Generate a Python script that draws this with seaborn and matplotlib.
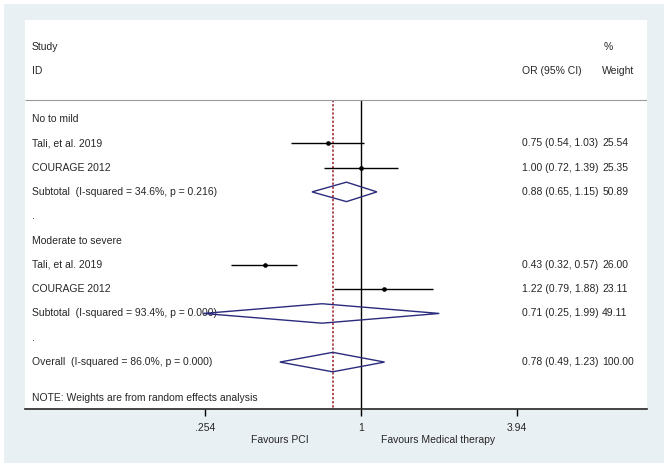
import matplotlib
matplotlib.use("Agg")
import matplotlib.pyplot as plt
import matplotlib.transforms as mtransforms
from matplotlib.patches import Polygon, Rectangle
import numpy as np
import pandas as pd
import seaborn as sns

# rows of the forest plot (top to bottom)
row_labels = ["No to mild", "Tali, et al. 2019", "COURAGE 2012",
              "Subtotal  (I-squared = 34.6%, p = 0.216)", ".",
              "Moderate to severe", "Tali, et al. 2019", "COURAGE 2012",
              "Subtotal  (I-squared = 93.4%, p = 0.000)", ".",
              "Overall  (I-squared = 86.0%, p = 0.000)"]

# single studies
study_rows = [1, 2, 6, 7]
study_or = [0.75, 1.00, 0.43, 1.22]
study_lo = [0.54, 0.72, 0.32, 0.79]
study_hi = [1.03, 1.39, 0.57, 1.88]
study_wt = [25.54, 25.35, 26.00, 23.11]

# pooled estimates
pool_rows = [3, 8, 10]
pool_or = [0.88, 0.71, 0.78]
pool_lo = [0.65, 0.25, 0.49]
pool_hi = [1.15, 1.99, 1.23]
pool_wt = [50.89, 49.11, 100.00]

xticks = [0.254, 1, 3.94]
xtick_labels = [".254", "1", "3.94"]

sns.set_style("white")
plt.rcParams['font.family'] = ['Liberation Sans', 'DejaVu Sans']
fs = 7.5

fig = plt.figure(figsize=(6.68, 4.69), dpi=100)
fig.patch.set_facecolor("white")
fig.patches.append(Rectangle((4 / 668, 6 / 469), 660 / 668, 459 / 469,
                             transform=fig.transFigure, facecolor="#e9f0f3",
                             edgecolor="none", zorder=-5))
ax = fig.add_axes([25 / 668, 60 / 469, 622 / 668, 389 / 469])
ax.set_facecolor("white")

ax.set_xscale("log")
ax.set_xlim(np.exp(-336 / 113.8), np.exp(286 / 113.8))
ax.set_ylim(11.93, -4.07)

df = pd.DataFrame({"row": study_rows, "or": study_or, "lo": study_lo,
                   "hi": study_hi, "wt": study_wt})
pool = pd.DataFrame({"row": pool_rows, "or": pool_or, "lo": pool_lo,
                     "hi": pool_hi, "wt": pool_wt})

# reference lines
ax.vlines(1, -0.78, 11.93, color="black", lw=1.0, zorder=2)
ax.vlines(pool["or"].iloc[-1], -0.78, 11.93, color="#9b1c2a", lw=1.1,
          linestyles=(0, (1.5, 1.2)), zorder=2)
ax.hlines(-0.78, *ax.get_xlim(), color="#9a9a9a", lw=0.8)

# study CIs and points
ax.hlines(df["row"], df["lo"], df["hi"], color="black", lw=1.0, zorder=3)
sns.scatterplot(data=df, x="or", y="row", color="black", s=9, marker="o",
                edgecolor="black", linewidth=0.3, ax=ax, zorder=4, legend=False)

# diamonds
h = 0.4
for _, r in pool.iterrows():
    pts = [(r["lo"], r["row"]), (r["or"], r["row"] - h),
           (r["hi"], r["row"]), (r["or"], r["row"] + h)]
    ax.add_patch(Polygon(pts, closed=True, fill=False, edgecolor="#2b2b7d",
                         lw=1.0, zorder=5))

# text columns
tr = mtransforms.blended_transform_factory(ax.transAxes, ax.transData)
x_lab, x_or, x_wt = 0.0113, 0.799, 0.928
ax.text(x_lab, -2.97, "Study", transform=tr, fontsize=fs, va="center")
ax.text(x_lab, -1.98, "ID", transform=tr, fontsize=fs, va="center")
ax.text(0.931, -2.97, "%", transform=tr, fontsize=fs, va="center")
ax.text(x_or, -1.98, "OR (95% CI)", transform=tr, fontsize=fs, va="center")
ax.text(x_wt, -1.98, "Weight", transform=tr, fontsize=fs, va="center")

for i, lab in enumerate(row_labels):
    ax.text(x_lab, i, lab, transform=tr, fontsize=fs, va="center", zorder=3)

for tab in (df, pool):
    for _, r in tab.iterrows():
        ax.text(x_or, r["row"], f"{r['or']:.2f} ({r['lo']:.2f}, {r['hi']:.2f})",
                transform=tr, fontsize=fs, va="center")
        ax.text(x_wt, r["row"], f"{r['wt']:.2f}", transform=tr,
                fontsize=fs, va="center")

ax.text(x_lab, 11.48, "NOTE: Weights are from random effects analysis",
        transform=tr, fontsize=fs, va="center")

# axes styling
for s in ["top", "left", "right"]:
    ax.spines[s].set_visible(False)
ax.spines["bottom"].set_linewidth(1.2)
ax.set_yticks([])
ax.set_xticks(xticks)
ax.set_xticklabels(xtick_labels, fontsize=fs)
ax.xaxis.set_minor_locator(matplotlib.ticker.NullLocator())
ax.tick_params(axis="x", direction="out", length=5, width=1, color="black",
               pad=5, bottom=True)
ax.set_xlabel("")
ax.set_ylabel("")

ax.text(0.41, -0.08, "Favours PCI", transform=ax.transAxes, fontsize=fs,
        ha="center", va="center")
ax.text(0.664, -0.08, "Favours Medical therapy", transform=ax.transAxes,
        fontsize=fs, ha="center", va="center")

fig.savefig("out.png", dpi=100)
